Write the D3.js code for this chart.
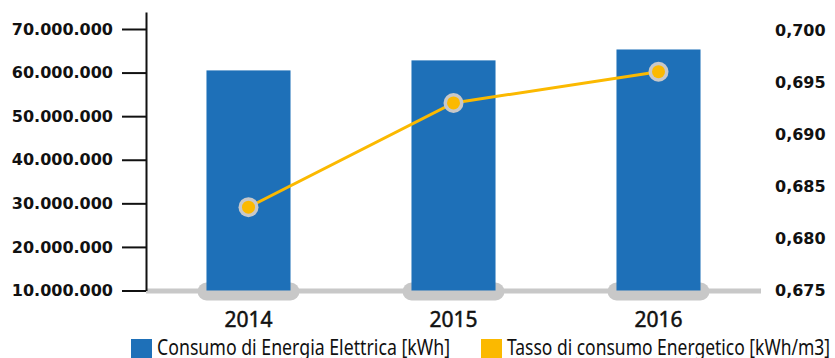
<!DOCTYPE html>
<html>
<head>
<meta charset="utf-8">
<script src="https://cdn.jsdelivr.net/npm/d3@7"></script>
<style>
  html, body { margin: 0; padding: 0; background: #ffffff; }
  svg { display: block; }
</style>
</head>
<body>
<svg id="chart" width="835" height="358"></svg>
<script>
// Energy consumption 2014–2016: bars on the left axis, rate line on the right axis
const years = ["2014", "2015", "2016"];
const consumoKWh = [60500000, 62800000, 65300000];
const tassoKWhM3 = [0.683, 0.693, 0.696];
const leftTicks = [10000000, 20000000, 30000000, 40000000, 50000000, 60000000, 70000000];
const rightTicks = [0.675, 0.680, 0.685, 0.690, 0.695, 0.700];
const legendLabels = ["Consumo di Energia Elettrica [kWh]", "Tasso di consumo Energetico [kWh/m3]"];

const BLUE = "#1e70b8";
const YELLOW = "#fbb900";
const GREY = "#c8c8c8";
const INK = "#111111";

const it = d3.formatLocale({ decimal: ",", thousands: ".", grouping: [3], currency: ["€", ""] });
const fmtLeft = it.format(",.0f");
const fmtRight = it.format(".3f");

const svg = d3.select("#chart");

const plotLeft = 146, plotRight = 761, plotBottom = 290.5, plotTop = 12;

const x = d3.scaleBand().domain(years).range([plotLeft, plotRight])
  .paddingInner(0.59).paddingOuter(0.295);
const yLeft = d3.scaleLinear().domain([10000000, 73900000]).range([plotBottom, plotTop]);
const yRight = d3.scaleLinear().domain([0.675, 0.70173]).range([plotBottom, plotTop]);

// baseline
svg.append("line")
  .attr("x1", plotLeft).attr("x2", plotRight)
  .attr("y1", 291).attr("y2", 291)
  .attr("stroke", GREY).attr("stroke-width", 5);

// rounded feet under each bar
const footW = 102, footH = 18;
svg.append("g").selectAll("rect").data(years).join("rect")
  .attr("x", d => x(d) + x.bandwidth() / 2 - footW / 2)
  .attr("y", 291.5 - footH / 2)
  .attr("width", footW).attr("height", footH)
  .attr("rx", footH / 2).attr("ry", footH / 2)
  .attr("fill", GREY);

// bars
svg.append("g").selectAll("rect").data(years).join("rect")
  .attr("x", d => x(d))
  .attr("y", (d, i) => yLeft(consumoKWh[i]))
  .attr("width", x.bandwidth())
  .attr("height", (d, i) => yLeft(10000000) - yLeft(consumoKWh[i]))
  .attr("fill", BLUE);

// left axis
const gLeft = svg.append("g")
  .attr("transform", `translate(${plotLeft},0)`)
  .call(d3.axisLeft(yLeft).tickValues(leftTicks).tickFormat(fmtLeft)
    .tickSize(24).tickSizeOuter(0).tickPadding(9));
gLeft.select(".domain").attr("stroke", INK).attr("stroke-width", 2);
gLeft.selectAll(".tick line").attr("stroke", INK).attr("stroke-width", 2);
gLeft.selectAll(".tick text")
  .attr("fill", INK)
  .style("font-family", "'DejaVu Sans', sans-serif")
  .style("font-weight", "bold")
  .style("font-size", "16px");

// right axis (labels only)
const gRight = svg.append("g")
  .attr("transform", "translate(775,0)")
  .call(d3.axisRight(yRight).tickValues(rightTicks).tickFormat(fmtRight)
    .tickSize(0).tickPadding(0));
gRight.select(".domain").remove();
gRight.selectAll(".tick text")
  .attr("fill", INK)
  .style("font-family", "'DejaVu Sans', sans-serif")
  .style("font-weight", "bold")
  .style("font-size", "16px");

// x axis labels
svg.append("g").selectAll("text").data(years).join("text")
  .attr("x", d => x(d) + x.bandwidth() / 2)
  .attr("y", 327)
  .attr("text-anchor", "middle")
  .attr("fill", INK)
  .attr("stroke", INK)
  .attr("stroke-width", 0.5)
  .style("font-family", "'Noto Sans', sans-serif")
  .style("font-size", "21px")
  .text(d => d);

// rate line
const cx = d => x(d) + x.bandwidth() / 2;
const line = d3.line().x(d => cx(d.year)).y(d => yRight(d.value));
const pts = years.map((y, i) => ({ year: y, value: tassoKWhM3[i] }));
svg.append("path")
  .datum(pts)
  .attr("d", line)
  .attr("fill", "none")
  .attr("stroke", YELLOW)
  .attr("stroke-width", 3);

const dots = svg.append("g").selectAll("g").data(pts).join("g")
  .attr("transform", d => `translate(${cx(d.year)},${yRight(d.value)})`);
dots.append("circle").attr("r", 10).attr("fill", GREY);
dots.append("circle").attr("r", 6.5).attr("fill", YELLOW);

// legend
const legend = [
  { label: legendLabels[0], color: BLUE, sx: 131, tx: 157, w: 293 },
  { label: legendLabels[1], color: YELLOW, sx: 481, tx: 507, w: 323 }
];
const lg = svg.append("g").selectAll("g").data(legend).join("g");
lg.append("rect")
  .attr("x", d => d.sx).attr("y", 339)
  .attr("width", 21).attr("height", 21)
  .attr("fill", d => d.color);
lg.append("text")
  .attr("x", d => d.tx).attr("y", 355)
  .attr("fill", INK)
  .attr("textLength", d => d.w)
  .attr("lengthAdjust", "spacingAndGlyphs")
  .style("font-family", "'Noto Sans', sans-serif")
  .style("font-size", "21px")
  .text(d => d.label);
</script>
</body>
</html>
